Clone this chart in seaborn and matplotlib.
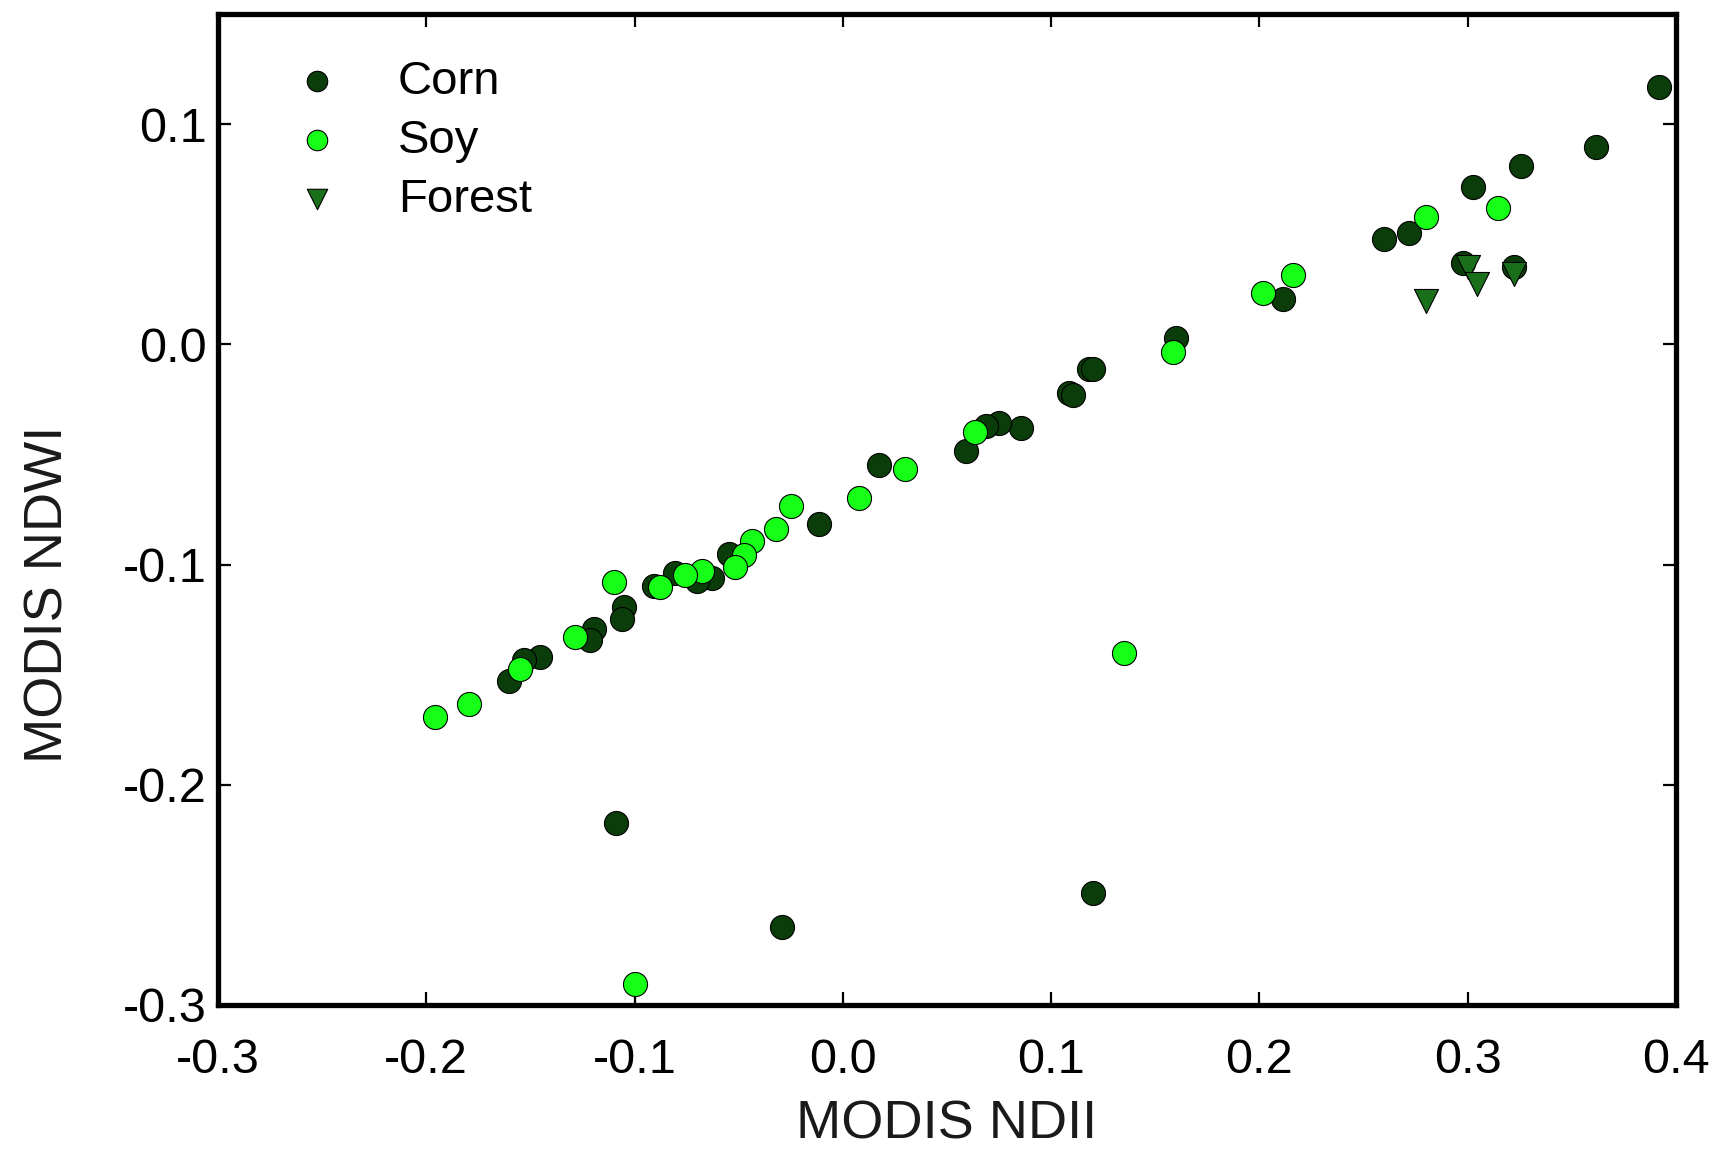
import matplotlib
matplotlib.use("Agg")
import matplotlib.pyplot as plt
import seaborn as sns
import pandas as pd

# ── data ────────────────────────────────────────────────────────────────────
corn_ndii = [0.392, 0.3614, 0.3256, 0.3024, 0.2716, 0.260, 0.2977, 0.3224, 0.2115,
             0.1597, 0.118, 0.120, 0.1086, 0.1107, 0.0857, 0.0749, 0.0686, 0.059,
             0.0173, -0.0115, -0.0548, -0.0628, -0.070, -0.0804, -0.0908, -0.1052,
             -0.106, -0.1196, -0.1212, -0.1453, -0.1533, -0.1605, -0.1088, -0.0293, 0.120]
corn_ndwi = [0.117, 0.0898, 0.081, 0.0715, 0.0504, 0.048, 0.0368, 0.035, 0.0205,
             0.003, -0.0114, -0.0114, -0.0223, -0.0228, -0.0379, -0.0356, -0.0372, -0.0485,
             -0.0548, -0.0817, -0.0953, -0.1059, -0.1073, -0.104, -0.1096, -0.1195,
             -0.1247, -0.1293, -0.1342, -0.1421, -0.1433, -0.1527, -0.2174, -0.2645, -0.249]

soy_ndii = [0.3145, 0.280, 0.216, 0.2016, 0.1587, 0.0634, 0.0297, 0.0077, -0.0251,
            -0.032, -0.0435, -0.0476, -0.0519, -0.0676, -0.0756, -0.088, -0.110,
            -0.1284, -0.1552, -0.1797, -0.1957, 0.1348, -0.0999]
soy_ndwi = [0.062, 0.058, 0.0315, 0.0232, -0.0035, -0.0397, -0.0568, -0.0696, -0.0734,
            -0.084, -0.0892, -0.0956, -0.101, -0.1028, -0.1047, -0.110, -0.1081,
            -0.1327, -0.1474, -0.1632, -0.1692, -0.1403, -0.2903]

forest_ndii = [0.280, 0.300, 0.3045, 0.3224]
forest_ndwi = [0.0195, 0.0353, 0.0274, 0.032]

x_ticks = [-0.3, -0.2, -0.1, 0.0, 0.1, 0.2, 0.3, 0.4]
y_ticks = [-0.3, -0.2, -0.1, 0.0, 0.1]

groups = [
    ("Corn", corn_ndii, corn_ndwi, "o", "#0b3d0b"),
    ("Soy", soy_ndii, soy_ndwi, "o", "#16ff16"),
    ("Forest", forest_ndii, forest_ndwi, "v", "#1a701a"),
]

sns.set_style("ticks")
plt.rcParams["font.family"] = ["Liberation Sans", "DejaVu Sans"]
plt.rcParams["text.color"] = "black"

fig = plt.figure(figsize=(17.18, 11.59), dpi=100)
ax = fig.add_axes([0.1269, 0.1329, 0.9756 - 0.1269, 0.9879 - 0.1329])

for name, xs, ys, mk, col in groups:
    df = pd.DataFrame({"NDII": xs, "NDWI": ys})
    sns.scatterplot(data=df, x="NDII", y="NDWI", marker=mk, color=col, s=300,
                    edgecolor="black", linewidth=0.8, label=name, ax=ax, zorder=3)

ax.set_xlim(-0.3, 0.4)
ax.set_ylim(-0.3, 0.15)
ax.set_xticks(x_ticks)
ax.set_yticks(y_ticks)
ax.set_xticklabels([f"{v:.1f}" for v in x_ticks])
ax.set_yticklabels([f"{v:.1f}" for v in y_ticks])

for sp in ax.spines.values():
    sp.set_linewidth(3.8)
    sp.set_color("black")
ax.tick_params(direction="in", length=9.5, width=1.6, top=True, right=True,
               labelsize=35, colors="black")
ax.tick_params(axis="x", pad=24)
ax.tick_params(axis="y", pad=8)

ax.set_xlabel("MODIS NDII", fontsize=39, labelpad=12, color="#1a1a1a")
ax.set_ylabel("MODIS NDWI", fontsize=39, color="#1a1a1a")
ax.yaxis.set_label_coords(-0.099, 0.414)

ax.legend(loc="upper left", bbox_to_anchor=(0.052, 0.954), frameon=False,
          fontsize=34, handlelength=1.0, handletextpad=1.2, labelspacing=0.32,
          borderpad=0, borderaxespad=0, markerscale=0.85)

fig.savefig("out.png", dpi=100)
